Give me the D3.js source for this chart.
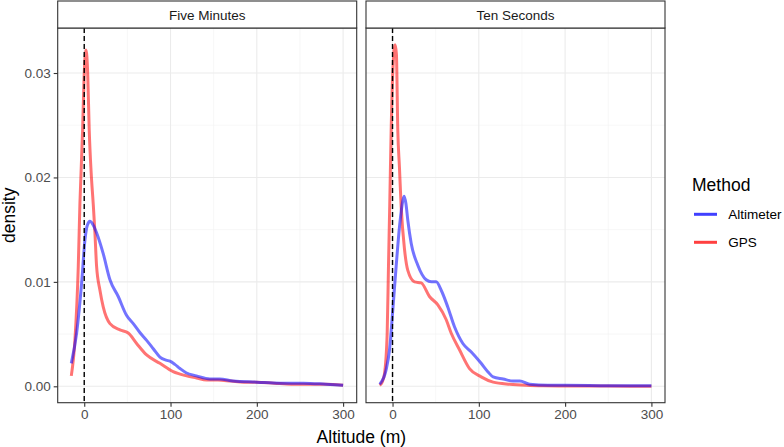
<!DOCTYPE html>
<html>
<head>
<meta charset="utf-8">
<script src="https://cdn.jsdelivr.net/npm/d3@7"></script>
<style>
  html, body { margin: 0; padding: 0; background: #fff; }
  svg { display: block; font-family: "Liberation Sans", Arial, sans-serif; }
</style>
</head>
<body>
<svg id="chart" width="784" height="447"></svg>
<script>
// ---------- data ----------
const panels = ["Five Minutes", "Ten Seconds"];
const methods = ["Altimeter", "GPS"];
const methodColors = ["#0000FF", "#FF0000"];

const xTicks = [0, 100, 200, 300];
const xTickLabels = ["0", "100", "200", "300"];
const yTicks = [0, 0.01, 0.02, 0.03];
const yTickLabels = ["0.00", "0.01", "0.02", "0.03"];

// Five Minutes
const fiveAltX = [-15, -8.8, -3, 0.8, 3.5, 6.6, 10, 14.3, 22, 29.8, 39.4, 49, 56.8, 64, 72.3, 80, 87.7, 95, 99.3, 105, 111, 118, 130, 145.6, 157, 172.6, 200, 227, 254, 280, 300];
const fiveAltY = [0.0022, 0.0051, 0.0099, 0.0140, 0.0154, 0.0158, 0.0155, 0.0147, 0.0127, 0.0102, 0.0086, 0.0068, 0.0060, 0.0052, 0.0044, 0.0036, 0.0028, 0.0025, 0.0024, 0.0021, 0.0017, 0.0013, 0.0010, 0.0007, 0.0007, 0.0005, 0.0004, 0.0003, 0.0003, 0.0002, 0.0001];
const fiveGpsX = [-15, -10.8, -6.9, -5, -1.9, -0.3, 2, 4, 5.8, 8, 10.4, 12.4, 14.3, 18.2, 22, 29.8, 41.4, 51, 60.7, 72.3, 87.7, 103, 118.6, 130, 141.8, 155, 170, 185, 200, 220, 240, 260, 280, 300];
const fiveGpsY = [0.0010, 0.0044, 0.0115, 0.0175, 0.0245, 0.0293, 0.0322, 0.0300, 0.0245, 0.0205, 0.0175, 0.0147, 0.0115, 0.0092, 0.0076, 0.0060, 0.0054, 0.0051, 0.0041, 0.0030, 0.0022, 0.0014, 0.0010, 0.0008, 0.0006, 0.0006, 0.0005, 0.0004, 0.0004, 0.0003, 0.0002, 0.0002, 0.0002, 0.0001];

// Ten Seconds
const tenAltX = [-15, -13.9, -7.4, -3.5, 0.3, 4.2, 8.1, 12, 13.5, 15.5, 17.7, 21.6, 29.3, 39, 45, 50.6, 56.4, 64, 71.8, 81.5, 91, 102.7, 110.4, 116.6, 128.2, 139.7, 147.5, 159, 180, 200, 250, 300];
const tenAltY = [0.0002, 0.0003, 0.0016, 0.0035, 0.0073, 0.0115, 0.0153, 0.0178, 0.0182, 0.0175, 0.0159, 0.0137, 0.0116, 0.0102, 0.0100, 0.0100, 0.0092, 0.0076, 0.0057, 0.0041, 0.0033, 0.0022, 0.0014, 0.0009, 0.0007, 0.0005, 0.0005, 0.0002, 0.0001, 0.0001, 0.00006, 0.00005];
const tenGpsX = [-15, -12, -9.3, -6.2, -4.7, -3.2, -1.6, 0.5, 3, 4.5, 6.1, 8, 10, 13.9, 17.7, 25.5, 33.2, 42.8, 52.5, 62.1, 67.9, 77.6, 89.2, 102.7, 116.6, 136, 155, 175, 200, 250, 300];
const tenGpsY = [0.0001, 0.0004, 0.0012, 0.0051, 0.0115, 0.0175, 0.0245, 0.0305, 0.0327, 0.0318, 0.0245, 0.0210, 0.0172, 0.0131, 0.0111, 0.0100, 0.0099, 0.0086, 0.0078, 0.0064, 0.0051, 0.0035, 0.0017, 0.0009, 0.0004, 0.0002, 0.0001, 0.00005, 0.00003, 0.00002, 0.00001];

const vlineX = 0;

// ---------- build ----------
const zip = (xs, ys) => xs.map((x, i) => ({x: x, y: ys[i]}));
const panelData = [
  {name: panels[0], series: [
    {method: methods[1], color: methodColors[1], values: zip(fiveGpsX, fiveGpsY)},
    {method: methods[0], color: methodColors[0], values: zip(fiveAltX, fiveAltY)}
  ]},
  {name: panels[1], series: [
    {method: methods[1], color: methodColors[1], values: zip(tenGpsX, tenGpsY)},
    {method: methods[0], color: methodColors[0], values: zip(tenAltX, tenAltY)}
  ]}
];

const svg = d3.select("#chart");
const panelLefts = [57.7, 366];
const panelW = 299;
const pTop = 28, pBottom = 402.7, stripTop = 1;

const yScale = d3.scaleLinear().domain([-0.00157, 0.03431]).range([pBottom, pTop]);

panelData.forEach((pd, pi) => {
  const x0 = panelLefts[pi];
  const x = d3.scaleLinear().domain([-30.75, 315.75]).range([x0, x0 + panelW]);
  const y = yScale;
  const g = svg.append("g");

  // grid minor
  const xMinor = [50, 150, 250];
  const yMinor = [0.005, 0.015, 0.025];
  g.selectAll(".xmin").data(xMinor).enter().append("line")
    .attr("x1", d => x(d)).attr("x2", d => x(d)).attr("y1", pTop).attr("y2", pBottom)
    .attr("stroke", "#F2F2F2").attr("stroke-width", 0.6);
  g.selectAll(".ymin").data(yMinor).enter().append("line")
    .attr("x1", x0).attr("x2", x0 + panelW).attr("y1", d => y(d)).attr("y2", d => y(d))
    .attr("stroke", "#F2F2F2").attr("stroke-width", 0.6);
  // grid major
  g.selectAll(".xmaj").data(xTicks).enter().append("line")
    .attr("x1", d => x(d)).attr("x2", d => x(d)).attr("y1", pTop).attr("y2", pBottom)
    .attr("stroke", "#EBEBEB").attr("stroke-width", 1.1);
  g.selectAll(".ymaj").data(yTicks).enter().append("line")
    .attr("x1", x0).attr("x2", x0 + panelW).attr("y1", d => y(d)).attr("y2", d => y(d))
    .attr("stroke", "#EBEBEB").attr("stroke-width", 1.1);

  // density lines
  const line = d3.line().x(d => x(d.x)).y(d => y(d.y)).curve(d3.curveMonotoneX);
  pd.series.forEach(s => {
    g.append("path").datum(s.values)
      .attr("d", line)
      .attr("fill", "none")
      .attr("stroke", s.color)
      .attr("stroke-opacity", 0.55)
      .attr("stroke-width", 3)
      .attr("stroke-linejoin", "round");
  });

  // dashed vertical line
  g.append("line")
    .attr("x1", x(vlineX)).attr("x2", x(vlineX)).attr("y1", pTop).attr("y2", pBottom)
    .attr("stroke", "#000").attr("stroke-width", 1.4).attr("stroke-dasharray", "5,3");

  // panel border
  g.append("rect").attr("x", x0).attr("y", pTop).attr("width", panelW).attr("height", pBottom - pTop)
    .attr("fill", "none").attr("stroke", "#333333").attr("stroke-width", 1.1);

  // strip
  g.append("rect").attr("x", x0).attr("y", stripTop).attr("width", panelW).attr("height", pTop - stripTop)
    .attr("fill", "#fff").attr("stroke", "#333333").attr("stroke-width", 1.1);
  g.append("text").attr("x", x0 + panelW / 2).attr("y", pTop - 8.5)
    .attr("text-anchor", "middle").attr("font-size", 13.5).attr("fill", "#1A1A1A").text(pd.name);

  // x axis
  const xAxis = d3.axisBottom(x).tickValues(xTicks).tickFormat((d, i) => xTickLabels[i]).tickSize(4).tickPadding(3);
  const ax = g.append("g").attr("transform", `translate(0,${pBottom})`).call(xAxis);
  ax.select(".domain").remove();
  ax.selectAll(".tick line").attr("stroke", "#333333").attr("stroke-width", 1.1);
  ax.selectAll(".tick text").attr("font-size", 13.5).attr("fill", "#4D4D4D")
    .attr("font-family", "Liberation Sans, Arial, sans-serif");

  if (pi === 0) {
    const yAxis = d3.axisLeft(y).tickValues(yTicks).tickFormat((d, i) => yTickLabels[i]).tickSize(4).tickPadding(3);
    const ay = g.append("g").attr("transform", `translate(${x0},0)`).call(yAxis);
    ay.select(".domain").remove();
    ay.selectAll(".tick line").attr("stroke", "#333333").attr("stroke-width", 1.1);
    ay.selectAll(".tick text").attr("font-size", 13.5).attr("fill", "#4D4D4D")
      .attr("font-family", "Liberation Sans, Arial, sans-serif");
  }
});

// axis titles
svg.append("text").attr("x", (panelLefts[0] + panelLefts[1] + panelW) / 2).attr("y", 443)
  .attr("text-anchor", "middle").attr("font-size", 17.5).attr("fill", "#000").text("Altitude (m)");
svg.append("text").attr("transform", `translate(15,${(pTop + pBottom) / 2}) rotate(-90)`)
  .attr("text-anchor", "middle").attr("font-size", 17.5).attr("fill", "#000").text("density");

// legend
const lg = svg.append("g");
lg.append("text").attr("x", 692).attr("y", 190.5).attr("font-size", 17.5).attr("fill", "#000").text("Method");
const legendY = [214.3, 242.3];
methods.forEach((m, i) => {
  lg.append("line").attr("x1", 694).attr("x2", 717).attr("y1", legendY[i]).attr("y2", legendY[i])
    .attr("stroke", methodColors[i]).attr("stroke-opacity", 0.75).attr("stroke-width", 3);
  lg.append("text").attr("x", 728.3).attr("y", legendY[i] + 4.8).attr("font-size", 13.5)
    .attr("fill", "#000").text(m);
});
</script>
</body>
</html>
